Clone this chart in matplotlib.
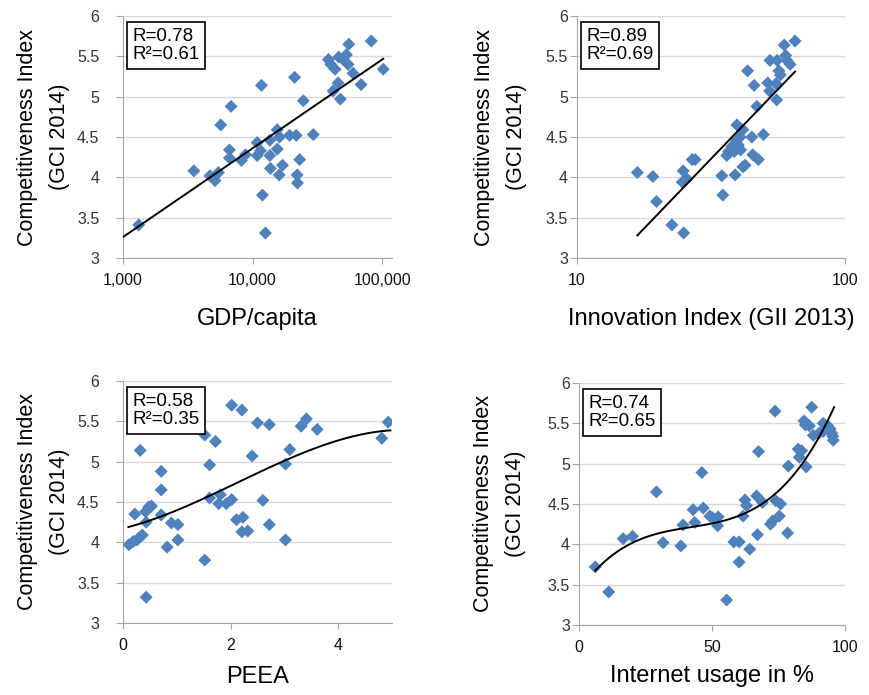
import numpy as np
import matplotlib
matplotlib.use("Agg")
import matplotlib.pyplot as plt
from matplotlib.ticker import FixedLocator, FuncFormatter, NullLocator

plt.rcParams['font.family'] = ['Liberation Sans', 'DejaVu Sans']

# --- data ---------------------------------------------------------------
gci_label = "Competitiveness Index\n(GCI 2014)"

gdp = [1322, 3524, 4688, 5128, 5445, 5675, 6823, 6622, 6622, 8204, 8810,
       10840, 10840, 11510, 11700, 11910, 12550, 13580, 13580, 13730, 15490,
       15490, 16040, 16130, 17020, 19280, 21080, 21700, 22070, 22180, 23070,
       24620, 29400, 38440, 40070, 41780, 43270, 45600, 47550, 46190, 49890,
       52930, 54520, 55200, 59600, 68710, 82300, 101900]
gci_gdp = [3.41, 4.08, 4.02, 3.96, 4.06, 4.65, 4.88, 4.34, 4.24, 4.21, 4.28,
           4.43, 4.27, 4.33, 5.14, 3.78, 3.31, 4.46, 4.27, 4.11, 4.59,
           4.35, 4.03, 4.50, 4.15, 4.52, 5.24, 4.52, 4.03, 3.93, 4.22,
           4.95, 4.53, 5.46, 5.40, 5.07, 5.34, 5.17, 4.97, 5.49, 5.46,
           5.52, 5.40, 5.65, 5.29, 5.15, 5.69, 5.34]
# log trend line end points
gdp_trend_x = [1000, 101900]
gdp_trend_y = [3.26, 5.47]

gii = [16.8, 19.2, 19.8, 22.6, 25.0, 24.9, 24.7, 25.7, 26.9, 27.6, 34.7,
       35.0, 36.2, 36.8, 37.8, 38.6, 38.9, 39.5, 39.5, 40.0, 40.6, 40.8,
       41.6, 41.6, 42.4, 43.3, 44.9, 45.3, 45.8, 46.9, 47.5, 49.6, 51.5,
       52.3, 52.5, 55.3, 55.6, 55.8, 56.7, 57.4, 59.3, 60.1, 60.7, 62.4, 65.1]
gci_gii = [4.06, 4.01, 3.70, 3.41, 3.31, 4.08, 3.94, 3.98, 4.22, 4.22, 4.02,
           3.78, 4.27, 4.32, 4.38, 4.32, 4.03, 4.65, 4.46, 4.40, 4.50, 4.34,
           4.59, 4.13, 4.15, 5.32, 4.50, 4.28, 5.14, 4.88, 4.22, 4.53, 5.17,
           5.07, 5.45, 5.16, 4.96, 5.45, 5.32, 5.27, 5.64, 5.51, 5.45, 5.40, 5.69]

peea = [0.11, 0.19, 0.22, 0.26, 0.32, 0.32, 0.36, 0.42, 0.43, 0.43, 0.48,
        0.53, 0.71, 0.71, 0.71, 0.82, 0.90, 1.02, 1.02, 1.52, 1.52, 1.61,
        1.61, 1.72, 1.81, 1.78, 1.92, 2.02, 2.02, 2.11, 2.21, 2.21, 2.23,
        2.32, 2.40, 2.50, 2.60, 2.72, 2.72, 3.02, 3.02, 3.10, 3.31, 3.41,
        3.61, 4.81, 4.93]
gci_peea = [3.97, 4.01, 4.35, 4.03, 4.07, 5.14, 4.09, 4.38, 4.25, 3.32, 4.44,
            4.45, 4.88, 4.65, 4.34, 3.94, 4.24, 4.22, 4.03, 5.33, 3.78, 4.96,
            4.55, 5.25, 4.59, 4.48, 4.48, 5.70, 4.53, 4.28, 5.64, 4.13, 4.31,
            4.14, 5.07, 5.48, 4.52, 5.46, 4.22, 4.97, 4.03, 5.15, 5.44, 5.53,
            5.40, 5.29, 5.49]
# polynomial trend samples
peea_trend_x = [0.10, 1.18, 1.80, 2.43, 3.05, 3.67, 4.28, 4.97]
peea_trend_y = [4.19, 4.45, 4.63, 4.84, 5.03, 5.19, 5.31, 5.39]

internet = [6.1, 11.2, 16.6, 20.1, 29.1, 31.6, 38.3, 39.1, 42.9, 43.5, 46.2,
            46.7, 49.2, 50.2, 52.1, 52.3, 55.5, 58.2, 60.2, 60.2, 61.7, 62.4,
            63.0, 64.2, 66.8, 67.1, 67.5, 69.0, 72.0, 72.8, 73.7, 74.0, 75.3,
            75.8, 78.4, 78.7, 82.4, 82.8, 83.7, 84.6, 85.1, 85.4, 86.6, 87.5,
            88.1, 90.3, 91.8, 93.5, 94.4, 95.0, 95.4, 95.6, 91.8]
gci_internet = [3.72, 3.41, 4.07, 4.10, 4.65, 4.02, 3.98, 4.24, 4.43, 4.27, 4.89,
                4.45, 4.35, 4.33, 4.23, 4.34, 3.31, 4.03, 4.03, 3.78, 4.35, 4.55,
                4.48, 3.94, 4.60, 4.12, 5.15, 4.52, 4.25, 4.29, 5.65, 4.54, 4.35,
                4.50, 4.14, 4.97, 5.18, 5.08, 5.16, 5.53, 5.48, 4.96, 5.47, 5.70,
                5.35, 5.38, 5.50, 5.47, 5.43, 5.38, 5.34, 5.29, 5.40]

stats = ["R=0.78\nR²=0.61", "R=0.89\nR²=0.69", "R=0.58\nR²=0.35", "R=0.74\nR²=0.65"]
xlabels = ["GDP/capita", "Innovation Index (GII 2013)", "PEEA", "Internet usage in %"]

# --- style --------------------------------------------------------------
blue = "#4f81bd"
grid_col = "#d9d9d9"
spine_col = "#a6a6a6"

fig = plt.figure(figsize=(8.7, 6.95), dpi=100)
W, H = 870, 695


def make_axes(left, top, right, bottom):
    return fig.add_axes([left / W, 1 - bottom / H, (right - left) / W, (bottom - top) / H])


def style(ax, xlabel, stat, ypad, label_x, xpad):
    ax.set_ylim(3, 6)
    ax.yaxis.set_major_locator(FixedLocator([3, 3.5, 4, 4.5, 5, 5.5, 6]))
    ax.yaxis.set_major_formatter(FuncFormatter(lambda v, p: f"{v:g}"))
    ax.grid(axis='y', color=grid_col, lw=1)
    ax.set_axisbelow(True)
    for s in ['top', 'right']:
        ax.spines[s].set_visible(False)
    for s in ['left', 'bottom']:
        ax.spines[s].set_color(spine_col)
    ax.tick_params(axis='y', colors=spine_col, labelcolor='#333333', labelsize=11.5,
                   length=5, pad=ypad)
    ax.tick_params(axis='x', colors=spine_col, labelcolor='#111111', labelsize=11.5,
                   length=4, pad=7)
    ax.set_xlabel(xlabel, fontsize=17, labelpad=xpad)
    ax.set_ylabel(gci_label, fontsize=15.5, linespacing=1.7, va='center')
    ax.yaxis.set_label_coords(label_x, 0.5)
    ax.text(0.035, 0.95, stat, transform=ax.transAxes, va='top', ha='left',
            fontsize=13.5, linespacing=1.1,
            bbox=dict(boxstyle='square,pad=0.3', fc='white', ec='black', lw=1.2))


def scatter(ax, x, y):
    ax.scatter(x, y, marker='D', s=44, color=blue, edgecolors='none', zorder=3)


# GDP per capita (log axis)
ax1 = make_axes(123, 16, 392, 258)
scatter(ax1, gdp, gci_gdp)
ax1.set_xscale('log')
ax1.set_xlim(1000, 119000)
ax1.xaxis.set_major_locator(FixedLocator([1000, 10000, 100000]))
ax1.xaxis.set_minor_locator(NullLocator())
ax1.xaxis.set_major_formatter(FuncFormatter(lambda v, p: f"{v:,.0f}"))
ax1.plot(gdp_trend_x, gdp_trend_y, color='black', lw=1.4, zorder=4)
style(ax1, xlabels[0], stats[0], 12, -0.297, 14)

# Innovation index (log axis, linear trend in log space)
ax2 = make_axes(577, 16, 845, 258)
scatter(ax2, gii, gci_gii)
ax2.set_xscale('log')
ax2.set_xlim(10, 100)
ax2.xaxis.set_major_locator(FixedLocator([10, 100]))
ax2.xaxis.set_minor_locator(NullLocator())
ax2.xaxis.set_major_formatter(FuncFormatter(lambda v, p: f"{v:g}"))
c = np.polyfit(np.log10(gii), gci_gii, 1)
xt = np.logspace(np.log10(min(gii)), np.log10(max(gii)), 50)
ax2.plot(xt, np.polyval(c, np.log10(xt)), color='black', lw=1.4, zorder=4)
style(ax2, xlabels[1], stats[1], 1.5, -0.284, 14)

# PEEA (polynomial trend)
ax3 = make_axes(123, 381, 392, 623)
scatter(ax3, peea, gci_peea)
ax3.set_xlim(0, 5)
ax3.xaxis.set_major_locator(FixedLocator([0, 2, 4]))
c = np.polyfit(peea_trend_x, peea_trend_y, 3)
xt = np.linspace(peea_trend_x[0], peea_trend_x[-1], 100)
ax3.plot(xt, np.polyval(c, xt), color='black', lw=1.4, zorder=4)
style(ax3, xlabels[2], stats[2], 12, -0.297, 9)

# Internet usage (polynomial trend)
ax4 = make_axes(579, 383, 845, 625)
scatter(ax4, internet, gci_internet)
ax4.set_xlim(0, 100)
ax4.xaxis.set_major_locator(FixedLocator([0, 50, 100]))
c = np.polyfit(internet, gci_internet, 3)
xt = np.linspace(min(internet), 95.9, 100)
ax4.plot(xt, np.polyval(c, xt), color='black', lw=1.4, zorder=4)
style(ax4, xlabels[3], stats[3], 1.5, -0.30, 7)

fig.savefig("out.png", dpi=100)
